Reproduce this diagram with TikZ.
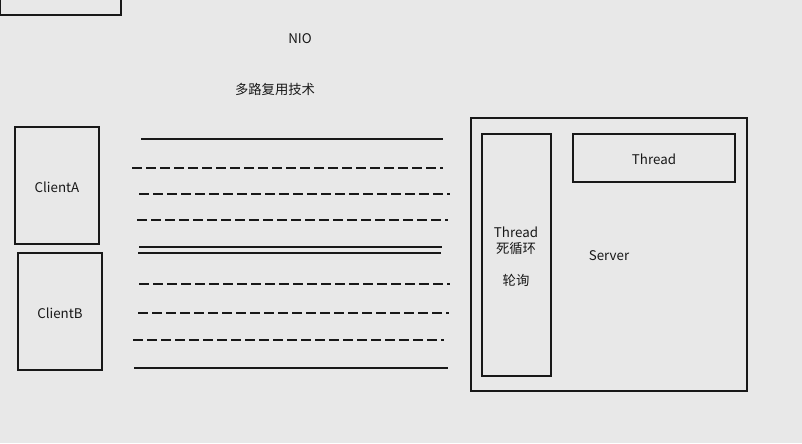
\documentclass[tikz,border=0pt]{standalone}
\usepackage{fontspec}
\setmainfont{Noto Sans CJK SC}
\usepackage{xcolor}
\definecolor{canvasgray}{RGB}{232,232,232}
\definecolor{inkblack}{RGB}{24,24,24}
\tikzstyle{frame} = [draw=inkblack, line width=1.1pt]
\tikzstyle{label} = [inner sep=0pt, font=\fontsize{10}{12}\selectfont, text=inkblack]
\tikzstyle{wire} = [draw=inkblack, line width=1.5pt]
\tikzstyle{dashwire} = [wire, dash pattern=on 7.5pt off 3pt]

\begin{document}
\begin{tikzpicture}[x=0.75pt, y=-0.75pt]
% Canvas
\fill[canvasgray] (0,0) rectangle (802,443);
\useasboundingbox (0,0) rectangle (802,443);

% Titles
\node (nio) [label] at (300,39) {NIO};
\node (mux) [label] at (275,89) {多路复用技术};

% Clients
\begin{scope}
\clip (0,0) rectangle (802,443);
\draw[frame] (0.6,-10) rectangle (121,15);
\end{scope}
\draw[frame] (15,127) rectangle (99,244);
\node (clientA) [label] at (57,187) {ClientA};
\draw[frame] (18,253) rectangle (102,370);
\node (clientB) [label] at (60,313) {ClientB};

% Channels
\draw[wire] (141,139) -- (443,139);
\draw[dashwire] (132,168) -- (443,168);
\draw[dashwire] (139,194) -- (450,194);
\draw[dashwire] (137,220) -- (448,220);
\draw[wire] (139,247) -- (442,247);
\draw[wire] (138,253) -- (441,253);
\draw[dashwire] (139,284) -- (450,284);
\draw[dashwire] (138,313) -- (449,313);
\draw[dashwire] (133,340) -- (444,340);
\draw[wire] (134,368) -- (448,368);

% Server
\draw[frame] (471,118) rectangle (747,391);
\node (server) [label] at (609,256) {Server};
\draw[frame] (482,134) rectangle (551,376);
\node (loop) [label] at (516,232) {Thread};
\node (dead) [label] at (516,248) {死循环};
\node (poll) [label] at (516,280) {轮询};
\draw[frame] (573,134) rectangle (735,182);
\node (worker) [label] at (654,159) {Thread};
\end{tikzpicture}
\end{document}
